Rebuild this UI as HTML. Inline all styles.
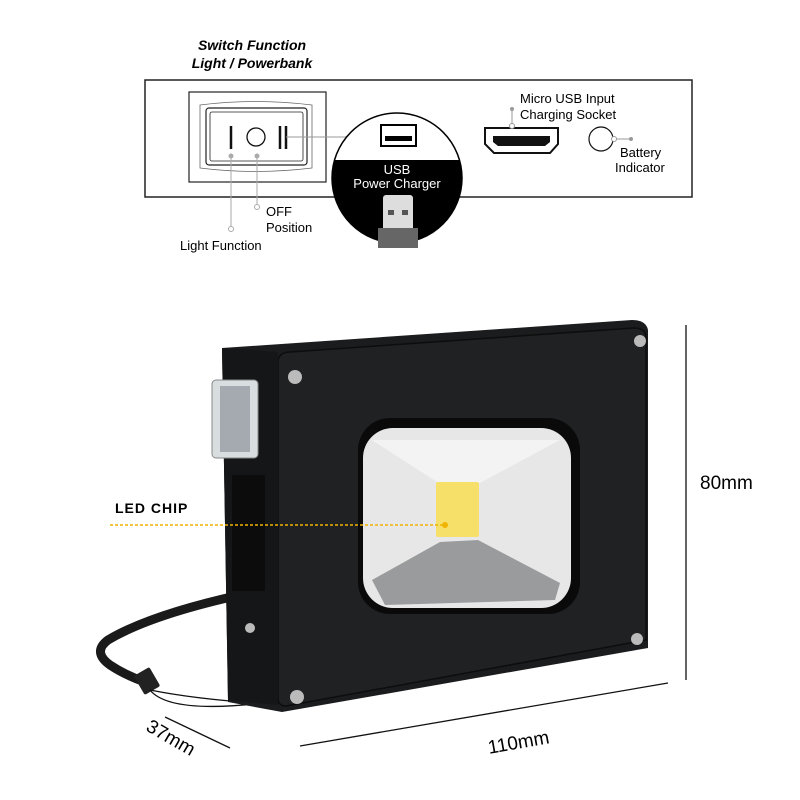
<!DOCTYPE html>
<html><head><style>body{margin:0;background:#fff}svg{display:block}</style></head><body>
<svg width="800" height="800" viewBox="0 0 800 800" xmlns="http://www.w3.org/2000/svg" font-family="Liberation Sans, Arial, sans-serif">
<rect width="800" height="800" fill="#fff"/>
<text x="252" y="50" font-size="14" font-weight="bold" font-style="italic" text-anchor="middle">Switch Function</text>
<text x="252" y="68" font-size="14" font-weight="bold" font-style="italic" text-anchor="middle">Light / Powerbank</text>
<rect x="145" y="80" width="547" height="117" fill="#fff" stroke="#222" stroke-width="1.5"/>
<rect x="189" y="92" width="137" height="90" fill="#fff" stroke="#222" stroke-width="1.2"/>
<path d="M200 105 Q255 98 312 105 L312 168 Q255 175 200 168 Z" fill="none" stroke="#666" stroke-width="0.8"/>
<rect x="206" y="108" width="101" height="57" rx="3" fill="none" stroke="#222" stroke-width="1.2"/>
<rect x="210" y="112" width="93" height="49" rx="2" fill="none" stroke="#222" stroke-width="0.8"/>
<line x1="231" y1="126" x2="231" y2="149" stroke="#111" stroke-width="2.5"/>
<circle cx="256" cy="137" r="9" fill="none" stroke="#111" stroke-width="1.3"/>
<line x1="280" y1="126" x2="280" y2="149" stroke="#111" stroke-width="2.5"/>
<line x1="286" y1="126" x2="286" y2="149" stroke="#111" stroke-width="2.5"/>
<line x1="286" y1="137" x2="355" y2="137" stroke="#999"/>
<circle cx="357" cy="137" r="2.5" fill="#fff" stroke="#999"/>
<line x1="231" y1="156" x2="231" y2="227" stroke="#aaa"/><circle cx="231" cy="156" r="2.5" fill="#aaa"/><circle cx="231" cy="229" r="2.5" fill="#fff" stroke="#aaa"/>
<line x1="257" y1="156" x2="257" y2="205" stroke="#aaa"/><circle cx="257" cy="156" r="2.5" fill="#aaa"/><circle cx="257" cy="207" r="2.5" fill="#fff" stroke="#aaa"/>
<text x="266" y="216" font-size="13">OFF</text>
<text x="266" y="232" font-size="13">Position</text>
<text x="180" y="250" font-size="13">Light Function</text>
<clipPath id="cc"><circle cx="397" cy="178" r="65"/></clipPath>
<circle cx="397" cy="178" r="65" fill="#000"/>
<g clip-path="url(#cc)"><path d="M320 100 L480 100 L480 160 L320 160 Z" fill="#fff"/></g>
<circle cx="397" cy="178" r="65" fill="none" stroke="#000" stroke-width="1.5"/>
<rect x="381" y="125" width="35" height="21" fill="#fff" stroke="#000" stroke-width="2"/>
<rect x="385" y="136" width="27" height="5" fill="#000"/>
<text x="397" y="174" font-size="13" fill="#fff" text-anchor="middle">USB</text>
<text x="397" y="188" font-size="13" fill="#fff" text-anchor="middle">Power Charger</text>
<rect x="383" y="195" width="30" height="40" rx="3" fill="#ddd"/>
<rect x="378" y="228" width="40" height="20" fill="#666"/>
<rect x="388" y="210" width="6" height="5" fill="#555"/><rect x="402" y="210" width="6" height="5" fill="#555"/>
<path d="M485 128 L558 128 L558 144 L550 153 L494 153 L485 144 Z" fill="#fff" stroke="#111" stroke-width="2"/>
<path d="M493 136 L550 136 L550 142 L545 146 L498 146 L493 142 Z" fill="#111"/>
<line x1="512" y1="109" x2="512" y2="127" stroke="#999"/><circle cx="512" cy="109" r="2" fill="#999"/><circle cx="512" cy="126" r="2.5" fill="#fff" stroke="#999"/>
<text x="520" y="103" font-size="13">Micro USB Input</text>
<text x="520" y="119" font-size="13">Charging Socket</text>
<circle cx="601" cy="139" r="12" fill="#fff" stroke="#111" stroke-width="1.2"/>
<line x1="614" y1="139" x2="630" y2="139" stroke="#999"/><circle cx="614" cy="139" r="2.5" fill="#fff" stroke="#999"/><circle cx="631" cy="139" r="2" fill="#999"/>
<text x="620" y="157" font-size="13">Battery</text>
<text x="615" y="172" font-size="13">Indicator</text>
<!-- strap behind -->
<path d="M240 595 Q150 615 108 640 Q92 652 110 665 Q125 675 145 682" fill="none" stroke="#1a1a1a" stroke-width="9" stroke-linecap="round"/>
<rect x="138" y="670" width="18" height="22" rx="2" fill="#222" transform="rotate(-30 147 681)"/>
<path d="M150 690 Q200 700 272 704" fill="none" stroke="#111" stroke-width="1.3"/>
<path d="M150 690 Q170 715 272 702" fill="none" stroke="#111" stroke-width="1.3"/>
<!-- Device -->
<path d="M222 348 L632 320 Q646 320 648 330 L648 648 L282 712 L228 702 Z" fill="#1b1c1e"/>
<path d="M278 360 Q280 352 290 352 L634 328 Q646 328 646 338 L646 640 L286 706 Q278 706 278 698 Z" fill="#202123" stroke="#0d0d0d" stroke-width="1.5"/>
<path d="M222 348 L278 352 L278 705 L228 700 Z" fill="#151617"/>
<rect x="212" y="380" width="46" height="78" rx="4" fill="#d8dde0" stroke="#888"/>
<rect x="220" y="386" width="30" height="66" fill="#a4aaaf"/>
<rect x="232" y="475" width="33" height="116" fill="#0c0c0c"/>
<circle cx="250" cy="628" r="5" fill="#bbb"/>
<circle cx="295" cy="377" r="7" fill="#bbb"/><circle cx="640" cy="341" r="6" fill="#bbb"/>
<circle cx="637" cy="639" r="6" fill="#bbb"/><circle cx="297" cy="697" r="7" fill="#bbb"/>
<rect x="358" y="418" width="222" height="196" rx="32" fill="#0a0a0a"/>
<rect x="363" y="428" width="208" height="180" rx="30" fill="#e6e7e6"/>
<path d="M372 580 L440 542 L478 540 L560 583 L555 600 L385 605 Z" fill="#9a9b9c"/>
<path d="M372 440 L440 484 L478 484 L560 440 Z" fill="#f2f3f2"/>
<rect x="436" y="482" width="43" height="55" rx="2" fill="#f6e06a"/>
<line x1="110" y1="525" x2="445" y2="525" stroke="#f0b400" stroke-width="1.5" stroke-dasharray="3,2"/>
<circle cx="445" cy="525" r="3" fill="#f0b400"/>
<text x="115" y="513" font-size="14" font-weight="bold" letter-spacing="1">LED CHIP</text>
<line x1="686" y1="325" x2="686" y2="680" stroke="#111" stroke-width="1.3"/>
<text x="700" y="489" font-size="19">80mm</text>
<line x1="300" y1="746" x2="668" y2="683" stroke="#111" stroke-width="1.3"/>
<text x="487" y="750" font-size="19" transform="rotate(-10 510 740)">110mm</text>
<line x1="165" y1="717" x2="230" y2="748" stroke="#111" stroke-width="1.3"/>
<text x="140" y="742" font-size="19" transform="rotate(30 165 745)">37mm</text>
</svg>
</body></html>
